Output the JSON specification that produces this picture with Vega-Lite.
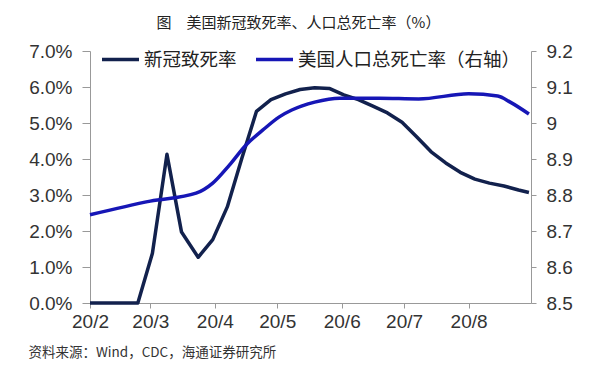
{
  "$schema": "https://vega.github.io/schema/vega-lite/v6.json",
  "width": 441,
  "height": 252,
  "autosize": {"type": "none"},
  "padding": {"left": 90, "top": 51, "right": 69, "bottom": 65},
  "background": "white",
  "config": {"view": {"stroke": null}, "font": "Liberation Sans"},
  "title": {
    "text": "图　美国新冠致死率、人口总死亡率（%）",
    "font": "Noto Sans CJK SC",
    "fontSize": 15,
    "fontWeight": "normal",
    "color": "#222222",
    "anchor": "middle",
    "frame": "group",
    "dx": -12,
    "offset": 8
  },
  "data": {
    "values": [
      {"date": "2020-02-01", "series": "新冠致死率", "value": 0},
      {"date": "2020-02-24", "series": "新冠致死率", "value": 0},
      {"date": "2020-03-02", "series": "新冠致死率", "value": 1.38},
      {"date": "2020-03-09", "series": "新冠致死率", "value": 4.13},
      {"date": "2020-03-16", "series": "新冠致死率", "value": 1.97},
      {"date": "2020-03-24", "series": "新冠致死率", "value": 1.27},
      {"date": "2020-03-31", "series": "新冠致死率", "value": 1.76},
      {"date": "2020-04-07", "series": "新冠致死率", "value": 2.67},
      {"date": "2020-04-14", "series": "新冠致死率", "value": 4.02},
      {"date": "2020-04-21", "series": "新冠致死率", "value": 5.32},
      {"date": "2020-04-28", "series": "新冠致死率", "value": 5.65},
      {"date": "2020-05-05", "series": "新冠致死率", "value": 5.81},
      {"date": "2020-05-12", "series": "新冠致死率", "value": 5.93},
      {"date": "2020-05-19", "series": "新冠致死率", "value": 5.98},
      {"date": "2020-05-26", "series": "新冠致死率", "value": 5.96},
      {"date": "2020-06-02", "series": "新冠致死率", "value": 5.78},
      {"date": "2020-06-09", "series": "新冠致死率", "value": 5.65},
      {"date": "2020-06-16", "series": "新冠致死率", "value": 5.47},
      {"date": "2020-06-23", "series": "新冠致死率", "value": 5.28},
      {"date": "2020-06-30", "series": "新冠致死率", "value": 5.02},
      {"date": "2020-07-07", "series": "新冠致死率", "value": 4.62},
      {"date": "2020-07-14", "series": "新冠致死率", "value": 4.2},
      {"date": "2020-07-21", "series": "新冠致死率", "value": 3.89},
      {"date": "2020-07-28", "series": "新冠致死率", "value": 3.63},
      {"date": "2020-08-04", "series": "新冠致死率", "value": 3.44},
      {"date": "2020-08-11", "series": "新冠致死率", "value": 3.33},
      {"date": "2020-08-18", "series": "新冠致死率", "value": 3.25},
      {"date": "2020-08-25", "series": "新冠致死率", "value": 3.14},
      {"date": "2020-08-30", "series": "新冠致死率", "value": 3.07},
      {"date": "2020-02-01", "series": "美国人口总死亡率（右轴）", "value": 8.745},
      {"date": "2020-03-01", "series": "美国人口总死亡率（右轴）", "value": 8.783},
      {"date": "2020-03-23", "series": "美国人口总死亡率（右轴）", "value": 8.805},
      {"date": "2020-03-31", "series": "美国人口总死亡率（右轴）", "value": 8.833},
      {"date": "2020-04-08", "series": "美国人口总死亡率（右轴）", "value": 8.883},
      {"date": "2020-04-16", "series": "美国人口总死亡率（右轴）", "value": 8.939},
      {"date": "2020-04-24", "series": "美国人口总死亡率（右轴）", "value": 8.98},
      {"date": "2020-05-02", "series": "美国人口总死亡率（右轴）", "value": 9.017},
      {"date": "2020-05-08", "series": "美国人口总死亡率（右轴）", "value": 9.036},
      {"date": "2020-05-19", "series": "美国人口总死亡率（右轴）", "value": 9.058},
      {"date": "2020-05-31", "series": "美国人口总死亡率（右轴）", "value": 9.069},
      {"date": "2020-06-19", "series": "美国人口总死亡率（右轴）", "value": 9.069},
      {"date": "2020-07-08", "series": "美国人口总死亡率（右轴）", "value": 9.067},
      {"date": "2020-08-01", "series": "美国人口总死亡率（右轴）", "value": 9.081},
      {"date": "2020-08-15", "series": "美国人口总死亡率（右轴）", "value": 9.075},
      {"date": "2020-08-21", "series": "美国人口总死亡率（右轴）", "value": 9.058},
      {"date": "2020-08-30", "series": "美国人口总死亡率（右轴）", "value": 9.025}
    ]
  },
  "encoding": {
    "x": {
      "field": "date",
      "type": "temporal",
      "scale": {
        "type": "utc",
        "domain": [
          {"year": 2020, "month": 2, "date": 1, "utc": true},
          {"year": 2020, "month": 8, "date": 31, "utc": true}
        ]
      },
      "axis": {
        "values": [
          {"year": 2020, "month": 2, "date": 1, "utc": true},
          {"year": 2020, "month": 3, "date": 1, "utc": true},
          {"year": 2020, "month": 4, "date": 1, "utc": true},
          {"year": 2020, "month": 5, "date": 1, "utc": true},
          {"year": 2020, "month": 6, "date": 1, "utc": true},
          {"year": 2020, "month": 7, "date": 1, "utc": true},
          {"year": 2020, "month": 8, "date": 1, "utc": true}
        ],
        "labelExpr": "utcFormat(datum.value, '%y/%-m')",
        "grid": false,
        "labelFlush": false,
        "labelOverlap": false,
        "labelFont": "Liberation Sans",
        "labelFontSize": 19,
        "labelColor": "#333333",
        "labelPadding": 4,
        "tickSize": 5,
        "tickColor": "#999999",
        "domainColor": "#999999",
        "title": "资料来源：Wind，CDC，海通证券研究所",
        "titleAnchor": "start",
        "titleAlign": "left",
        "titleBaseline": "alphabetic",
        "titleX": -62,
        "titleY": 53,
        "titleFont": "Noto Sans CJK SC",
        "titleFontSize": 13.5,
        "titleFontWeight": "normal",
        "titleColor": "#333333"
      }
    },
    "color": {
      "field": "series",
      "type": "nominal",
      "scale": {
        "domain": ["新冠致死率", "美国人口总死亡率（右轴）"],
        "range": ["#12214d", "#1616b6"]
      },
      "legend": {
        "orient": "none",
        "legendX": 10,
        "legendY": -12,
        "direction": "horizontal",
        "title": null,
        "symbolType": "stroke",
        "symbolSize": 1369,
        "symbolStrokeWidth": 3.5,
        "labelFont": "Noto Sans CJK SC",
        "labelFontSize": 18.5,
        "labelColor": "#222222",
        "labelOffset": 3,
        "labelLimit": 0,
        "columnPadding": 12
      }
    }
  },
  "layer": [
    {
      "transform": [{"filter": "datum.series === '新冠致死率'"}],
      "mark": {"type": "line", "strokeWidth": 3.5, "interpolate": "linear", "strokeJoin": "round"},
      "encoding": {
        "y": {
          "field": "value",
          "type": "quantitative",
          "scale": {"domain": [0, 7], "nice": false, "zero": false},
          "axis": {
            "orient": "left",
            "values": [0, 1, 2, 3, 4, 5, 6, 7],
            "labelExpr": "format(datum.value, '.1f') + '%'",
            "grid": false,
            "title": null,
            "labelFlush": false,
            "labelFont": "Liberation Sans",
            "labelFontSize": 19,
            "labelColor": "#333333",
            "labelPadding": 10,
            "tickSize": 8,
            "tickColor": "#999999",
            "domainColor": "#999999"
          }
        }
      }
    },
    {
      "transform": [{"filter": "datum.series === '美国人口总死亡率（右轴）'"}],
      "mark": {"type": "line", "strokeWidth": 3.5, "interpolate": "monotone"},
      "encoding": {
        "y": {
          "field": "value",
          "type": "quantitative",
          "scale": {"domain": [8.5, 9.2], "nice": false, "zero": false},
          "axis": {
            "orient": "right",
            "values": [8.5, 8.6, 8.7, 8.8, 8.9, 9.0, 9.1, 9.2],
            "labelExpr": "format(datum.value, '.1~f')",
            "grid": false,
            "title": null,
            "labelFlush": false,
            "labelFont": "Liberation Sans",
            "labelFontSize": 19,
            "labelColor": "#333333",
            "labelPadding": 10,
            "tickSize": 5,
            "tickColor": "#999999",
            "domainColor": "#999999"
          }
        }
      }
    }
  ],
  "resolve": {"scale": {"y": "independent"}}
}
